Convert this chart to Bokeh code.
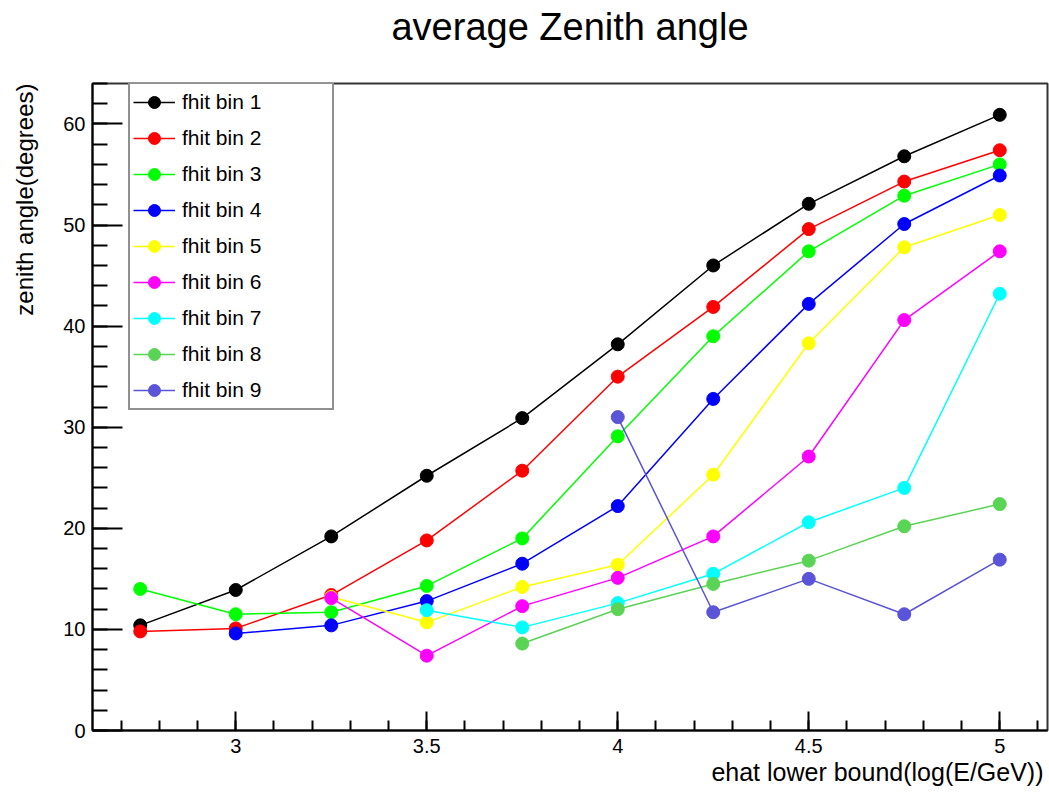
from bokeh.plotting import figure
from bokeh.models import (Range1d, SingleIntervalTicker, NumeralTickFormatter, Title,
                          Legend, LegendItem, ColumnDataSource)
from bokeh.embed import file_html
from bokeh.resources import INLINE

# ---- data ----
ehat = [2.75, 3.0, 3.25, 3.5, 3.75, 4.0, 4.25, 4.5, 4.75, 5.0]

bin1 = [10.4, 13.9, 19.2, 25.2, 30.9, 38.2, 46.0, 52.1, 56.8, 60.9]
bin2 = [9.8, 10.1, 13.4, 18.8, 25.7, 35.0, 41.9, 49.6, 54.3, 57.4]
bin3 = [14.0, 11.5, 11.7, 14.3, 19.0, 29.1, 39.0, 47.4, 52.9, 56.0]
bin4 = [9.6, 10.4, 12.8, 16.5, 22.2, 32.8, 42.2, 50.1, 54.9]
bin5 = [13.2, 10.7, 14.2, 16.4, 25.3, 38.3, 47.8, 51.0]
bin6 = [13.1, 7.4, 12.3, 15.1, 19.2, 27.1, 40.6, 47.4]
bin7 = [11.9, 10.2, 12.6, 15.5, 20.6, 24.0, 43.2]
bin8 = [8.6, 12.0, 14.5, 16.8, 20.2, 22.4]
bin9 = [31.0, 11.7, 15.0, 11.5, 16.9]

x_bin1 = ehat
x_bin2 = ehat
x_bin3 = ehat
x_bin4 = ehat[1:]
x_bin5 = ehat[2:]
x_bin6 = ehat[2:]
x_bin7 = ehat[3:]
x_bin8 = ehat[4:]
x_bin9 = ehat[5:]

labels = ["fhit bin 1", "fhit bin 2", "fhit bin 3", "fhit bin 4", "fhit bin 5",
          "fhit bin 6", "fhit bin 7", "fhit bin 8", "fhit bin 9"]
colors = ["#000000", "#ff0000", "#00ff00", "#0000ff", "#ffff00",
          "#ff00ff", "#00ffff", "#59d454", "#5954d8"]
xs_all = [x_bin1, x_bin2, x_bin3, x_bin4, x_bin5, x_bin6, x_bin7, x_bin8, x_bin9]
ys_all = [bin1, bin2, bin3, bin4, bin5, bin6, bin7, bin8, bin9]

title_text = "average Zenith angle"
xlabel_text = "ehat lower bound(log(E/GeV))"
ylabel_text = "zenith angle(degrees)"

FONT = "Liberation Sans"
W, H = 1049, 793
ML, MR, MT, MB = 92, 2, 83, 63
FH = H - MT - MB

p = figure(width=W, height=H, output_backend="svg", toolbar_location=None,
           x_range=Range1d(2.625, 5.125), y_range=Range1d(0, 64),
           min_border_left=ML, min_border_right=MR, min_border_top=MT,
           min_border_bottom=MB)
p.background_fill_color = "white"
p.border_fill_color = "white"
p.outline_line_color = "#333333"
p.outline_line_width = 2
p.xgrid.visible = False
p.ygrid.visible = False

p.title.text = title_text
p.title.align = "center"
p.title.vertical_align = "top"
p.title.text_font = FONT
p.title.text_font_size = "38px"
p.title.text_font_style = "normal"
p.title.text_color = "black"
p.title.standoff = 8

p.xaxis.ticker = SingleIntervalTicker(interval=0.5, num_minor_ticks=5)
p.yaxis.ticker = SingleIntervalTicker(interval=10, num_minor_ticks=5)
p.xaxis.formatter = NumeralTickFormatter(format="0.[0]")

for ax in (p.xaxis[0], p.yaxis[0]):
    ax.axis_line_color = "black"
    ax.axis_line_width = 2
    ax.major_tick_line_color = "black"
    ax.major_tick_line_width = 2
    ax.minor_tick_line_color = "black"
    ax.minor_tick_line_width = 2
    ax.major_tick_out = 0
    ax.minor_tick_out = 0
    ax.major_label_text_font = FONT
    ax.major_label_text_font_size = "20px"
    ax.major_label_text_color = "black"

p.xaxis.major_tick_in = 19
p.xaxis.minor_tick_in = 10
p.xaxis.major_label_standoff = 8
p.yaxis.major_tick_in = 30
p.yaxis.minor_tick_in = 15
p.yaxis.major_label_standoff = 7

items = []
for name, xs, ys, col in zip(labels, xs_all, ys_all, colors):
    src = ColumnDataSource(dict(x=xs, y=ys))
    r1 = p.line("x", "y", source=src, line_color=col, line_width=1.5)
    r2 = p.scatter("x", "y", source=src, size=13, fill_color=col, line_color=col)
    items.append(LegendItem(label=name, renderers=[r1, r2]))

legend = Legend(items=items, location=(36, FH - 327), margin=0,
                glyph_width=42, glyph_height=30, label_height=30, spacing=6,
                padding=3, label_standoff=7, label_width=147,
                label_text_font=FONT, label_text_font_size="21px",
                label_text_color="black",
                border_line_color="#222222", border_line_width=2,
                background_fill_color="white", background_fill_alpha=1)
p.add_layout(legend)

# spacer between the frame and the main title (keeps the title near the top edge)
p.add_layout(Title(text=" ", standoff=27, text_font_size="1px"), "above")

p.add_layout(Title(text=xlabel_text, align="right", vertical_align="top",
                   offset=4, standoff=5, text_font=FONT, text_font_size="25px",
                   text_font_style="normal", text_color="black"), "below")

# spacer between the y axis and its rotated title
p.add_layout(Title(text=" ", standoff=9, text_font_size="1px"), "left")
p.add_layout(Title(text=ylabel_text, align="right", vertical_align="top",
                   offset=0, standoff=18, text_font=FONT, text_font_size="24px",
                   text_font_style="normal", text_color="black"), "left")

open("out.html", "w").write(file_html(p, INLINE))
